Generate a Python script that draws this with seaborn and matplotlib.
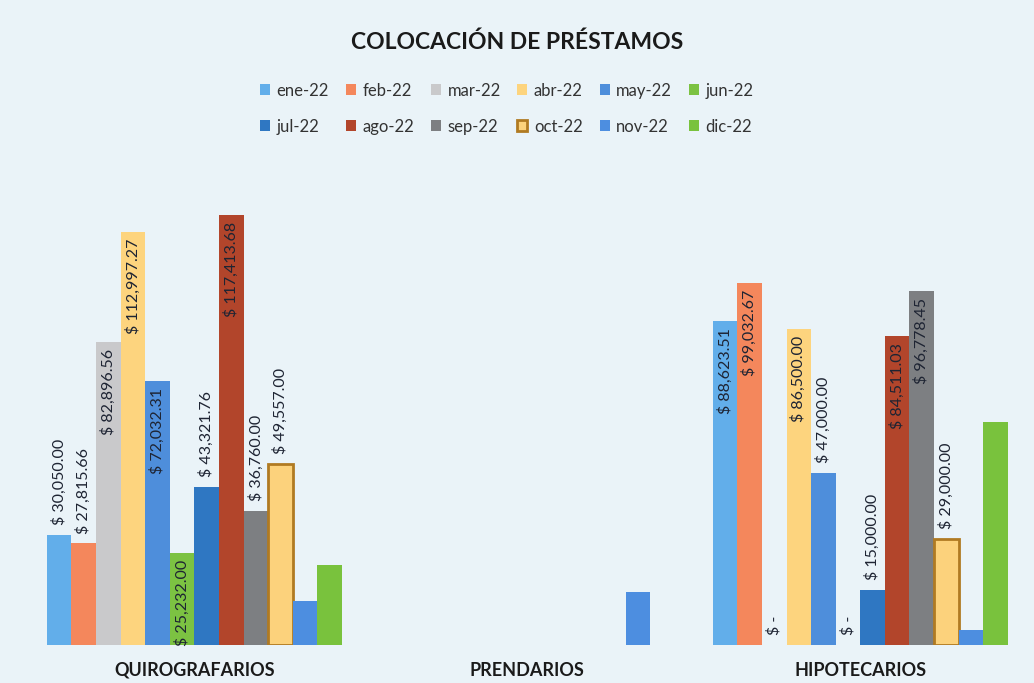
import pandas as pd
import matplotlib.pyplot as plt
import seaborn as sns

# Datos
meses = ["ene-22", "feb-22", "mar-22", "abr-22", "may-22", "jun-22",
         "jul-22", "ago-22", "sep-22", "oct-22", "nov-22", "dic-22"]
categorias = ["QUIROGRAFARIOS", "PRENDARIOS", "HIPOTECARIOS"]
quirografarios = [30050.00, 27815.66, 82896.56, 112997.27, 72032.31, 25232.00,
                  43321.76, 117413.68, 36760.00, 49557.00, 12000.00, 22000.00]
prendarios = [0, 0, 0, 0, 0, 0, 0, 0, 0, 0, 14500.00, 0]
hipotecarios = [88623.51, 99032.67, 0, 86500.00, 47000.00, 0,
                15000.00, 84511.03, 96778.45, 29000.00, 4000.00, 61000.00]

colores = ["#62aeea", "#f4875c", "#c9c9cb", "#fdd47e", "#4e8edb", "#7cc242",
           "#2f77c2", "#b2452b", "#7d7f82", "#fcd27c", "#4d8ee0", "#79c23d"]

# que etiquetas se ven en el original
sin_etiqueta = ["nov-22", "dic-22"]
con_etiqueta = ["QUIROGRAFARIOS", "HIPOTECARIOS"]
dentro = {"QUIROGRAFARIOS": ["mar-22", "abr-22", "may-22", "jun-22", "ago-22"],
          "HIPOTECARIOS": ["ene-22", "feb-22", "abr-22", "ago-22", "sep-22"]}

rows = []
for cat, vals in zip(categorias, [quirografarios, prendarios, hipotecarios]):
    for m, v in zip(meses, vals):
        rows.append({"categoria": cat, "mes": m, "monto": v})
df = pd.DataFrame(rows)

sns.set_theme(style="white")
plt.rcParams["font.family"] = ["Lato", "DejaVu Sans"]

fig = plt.figure(figsize=(10.34, 6.83), dpi=100, facecolor="#eaf3f8")
ax = fig.add_axes([0.027, 0.0556, 0.966, 0.75])
ax.set_facecolor("#eaf3f8")

sns.barplot(data=df, x="categoria", y="monto", hue="mes", order=categorias,
            hue_order=meses, palette=dict(zip(meses, colores)), width=0.886,
            gap=0, saturation=1, errorbar=None, legend=False, linewidth=0, ax=ax)

# borde del mes de octubre (solo barras con valor)
for p in ax.containers[9].patches:
    if p.get_height() > 0:
        p.set_edgecolor("#b07a22")
        p.set_linewidth(2)

# etiquetas de datos verticales
for mes, cont in zip(meses, ax.containers):
    if mes in sin_etiqueta:
        continue
    for cat, p in zip(categorias, cont.patches):
        if cat not in con_etiqueta:
            continue
        v = p.get_height()
        txt = f"$ {v:,.2f}" if v > 0 else "$ -"
        x = p.get_x() + p.get_width() / 2
        if mes in dentro[cat]:
            ax.annotate(txt, (x, v), xytext=(0, -5), textcoords="offset points",
                        rotation=90, ha="center", va="top", fontsize=11.5,
                        color="#1e2433")
        else:
            ax.annotate(txt, (x, v), xytext=(0, 7), textcoords="offset points",
                        rotation=90, ha="center", va="bottom", fontsize=11.5,
                        color="#1e2433")

ax.set_ylim(0, 140000)
ax.set_xlim(-0.5, 2.5)
ax.set_yticks([])
ax.set_xlabel("")
ax.set_ylabel("")
ax.tick_params(axis="x", length=0, pad=12)
for lbl in ax.get_xticklabels():
    lbl.set_fontweight("bold")
    lbl.set_fontsize(13)
    lbl.set_color("#1a1a1a")
sns.despine(ax=ax, left=True, bottom=True)

fig.text(0.5, 0.938, "COLOCACIÓN DE PRÉSTAMOS", ha="center", va="center",
         fontsize=16.5, fontweight="bold", color="#1a1a1a")

# leyenda en filas: ene..jun arriba, jul..dic abajo
orden = [i + 6 * r for i in range(6) for r in range(2)]
fig.legend([ax.containers[i] for i in orden], [meses[i] for i in orden],
           ncol=6, loc="center", bbox_to_anchor=(0.49, 0.841),
           frameon=False, fontsize=12, handlelength=0.6, handleheight=0.6,
           handletextpad=0.4, columnspacing=1.0, labelspacing=1.2,
           labelcolor="#333333")

fig.savefig("out.png", dpi=100, facecolor=fig.get_facecolor())
